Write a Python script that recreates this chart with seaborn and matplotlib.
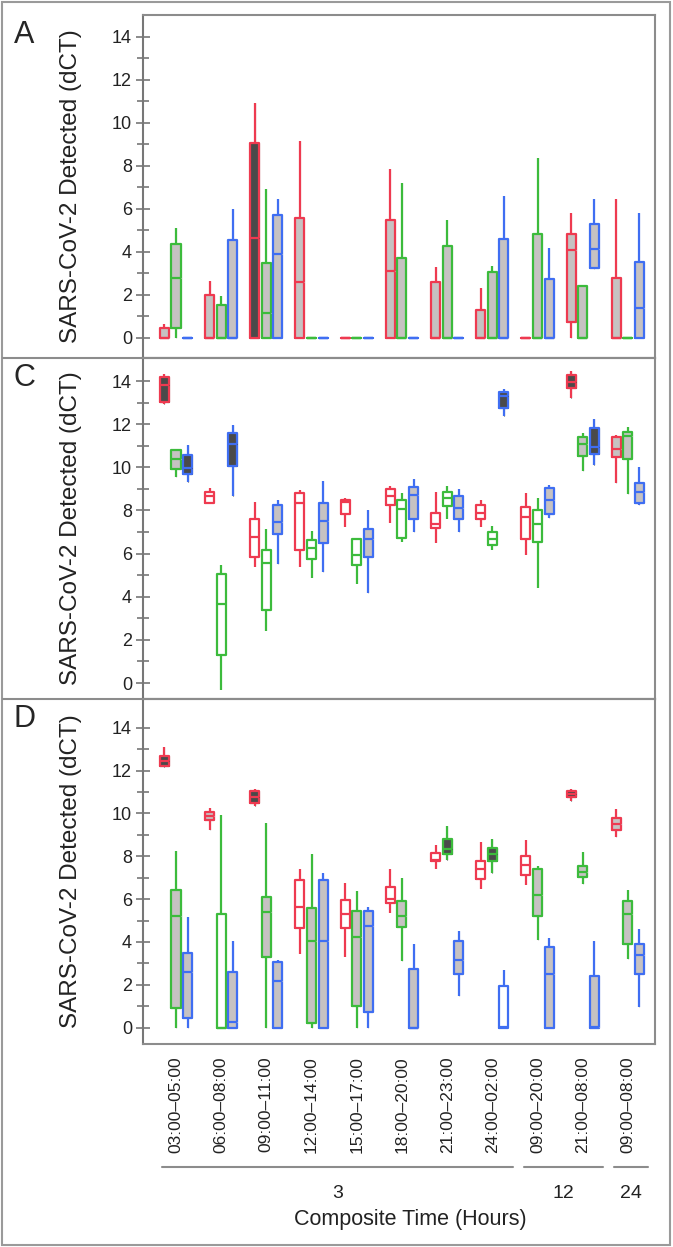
import matplotlib.pyplot as plt
import matplotlib.transforms as mtransforms
import pandas as pd
import seaborn as sns
from matplotlib.lines import Line2D
from matplotlib.patches import Rectangle

sns.set_style('white')
plt.rcParams['font.family'] = ['Liberation Sans', 'DejaVu Sans']

# --- data: box stats per series = (low whisker, q1, median, q3, high whisker) ---
times = ['03:00–05:00', '06:00–08:00', '09:00–11:00', '12:00–14:00', '15:00–17:00',
         '18:00–20:00', '21:00–23:00', '24:00–02:00', '09:00–20:00', '21:00–08:00',
         '09:00–08:00']
hour_groups = ['3', '12', '24']
hour_span = [(0, 7), (8, 9), (10, 10)]
series = ['red', 'green', 'blue']

a_red = [(0, 0, 0, 0.45, 0.65), (0, 0, 0, 1.98, 2.65), (0, 0, 4.63, 9.06, 10.9),
         (0, 0, 2.6, 5.57, 9.16), (0, 0, 0, 0, 0), (0, 0, 3.12, 5.48, 7.87),
         (0, 0, 0, 2.62, 3.28), (0, 0, 0, 1.28, 2.33), (0, 0, 0, 0, 0),
         (0, 0.76, 4.08, 4.84, 5.81), (0, 0, 0, 2.8, 6.45)]
a_green = [(0, 0.48, 2.8, 4.36, 5.1), (0, 0, 0, 1.52, 1.95), (0, 0, 1.15, 3.5, 6.93),
           (0, 0, 0, 0, 0), (0, 0, 0, 0, 0), (0, 0, 0, 3.74, 7.18),
           (0, 0, 0, 4.28, 5.5), (0, 0, 0, 3.08, 3.36), (0, 0, 0, 4.84, 8.37),
           (0, 0, 0, 2.41, 2.41), (0, 0, 0, 0, 0)]
a_blue = [(0, 0, 0, 0, 0), (0, 0, 0, 4.55, 6.0), (0, 0, 3.9, 5.72, 6.45),
          (0, 0, 0, 0, 0), (0, 0, 0, 0, 0), (0, 0, 0, 0, 0),
          (0, 0, 0, 0, 0), (0, 0, 0, 4.61, 6.6), (0, 0, 0, 2.75, 4.16),
          (3.19, 3.27, 4.15, 5.32, 6.45), (0, 0, 1.38, 3.54, 5.83)]
a_red_fill = ['g', 'g', 'd', 'g', 'w', 'g', 'g', 'g', 'w', 'g', 'g']
a_green_fill = ['g', 'g', 'g', 'w', 'w', 'g', 'g', 'g', 'g', 'g', 'w']
a_blue_fill = ['w', 'g', 'g', 'w', 'w', 'w', 'w', 'g', 'g', 'g', 'g']

c_red = [(12.93, 13.05, 13.83, 14.21, 14.34), (8.31, 8.37, 8.65, 8.88, 9.06),
         (5.37, 5.86, 6.76, 7.59, 8.41), (5.37, 6.17, 8.34, 8.80, 8.96),
         (7.25, 7.84, 8.41, 8.49, 8.57), (7.41, 8.24, 8.65, 8.99, 9.14),
         (6.48, 7.21, 7.38, 7.87, 8.88), (7.25, 7.59, 7.90, 8.26, 8.49),
         (5.94, 6.67, 7.72, 8.18, 8.80), (13.21, 13.70, 13.98, 14.29, 14.45),
         (9.27, 10.46, 10.87, 11.43, 11.51)]
c_green = [(9.57, 9.91, 10.39, 10.81, 10.87), (-0.32, 1.30, 3.65, 5.06, 5.48),
           (2.43, 3.39, 5.58, 6.17, 7.13), (4.87, 5.77, 6.25, 6.64, 7.07),
           (4.58, 5.48, 5.94, 6.68, 6.74), (6.56, 6.71, 8.07, 8.49, 8.80),
           (7.59, 8.23, 8.57, 8.88, 9.14), (6.17, 6.40, 6.68, 6.98, 7.30),
           (4.39, 6.56, 7.38, 8.00, 8.57), (9.81, 10.53, 11.09, 11.40, 11.59),
           (8.77, 10.39, 11.46, 11.63, 11.89)]
c_blue = [(9.34, 9.67, 9.96, 10.55, 11.03), (8.69, 10.07, 11.09, 11.59, 11.97),
          (5.52, 6.90, 7.47, 8.24, 8.49), (5.14, 6.51, 7.53, 8.34, 9.37),
          (4.16, 5.86, 6.67, 7.13, 8.03), (7.02, 7.59, 8.72, 9.11, 9.45),
          (7.02, 7.59, 8.11, 8.65, 8.99), (12.36, 12.75, 13.29, 13.49, 13.64),
          (7.67, 7.83, 8.49, 9.06, 9.19), (10.12, 10.63, 10.94, 11.82, 12.24),
          (8.26, 8.34, 8.88, 9.27, 10.01)]
c_red_fill = ['d', 'w', 'w', 'w', 'w', 'w', 'w', 'w', 'w', 'd', 'g']
c_green_fill = ['g', 'w', 'w', 'w', 'w', 'w', 'w', 'w', 'w', 'g', 'g']
c_blue_fill = ['d', 'd', 'g', 'g', 'g', 'g', 'g', 'd', 'g', 'd', 'g']

d_red = [(12.15, 12.21, 12.44, 12.69, 13.08), (9.22, 9.69, 9.88, 10.09, 10.26),
         (10.34, 10.51, 10.78, 11.04, 11.15), (3.44, 4.67, 5.65, 6.89, 7.39),
         (3.28, 4.67, 5.30, 5.96, 6.77), (5.37, 5.80, 6.03, 6.58, 7.40),
         (7.43, 7.79, 7.85, 8.16, 8.52), (6.47, 6.92, 7.39, 7.78, 8.68),
         (6.66, 7.15, 7.59, 8.02, 8.76), (10.58, 10.75, 10.90, 11.06, 11.15),
         (8.88, 9.22, 9.53, 9.77, 10.20)]
d_green = [(0, 0.90, 5.23, 6.42, 8.26), (0, 0, 0, 5.29, 9.95),
           (0, 3.31, 5.41, 6.10, 9.56), (0, 0.2, 4.04, 5.61, 8.13),
           (0, 1.03, 4.25, 5.46, 6.38), (3.13, 4.68, 5.23, 5.93, 7.00),
           (7.82, 8.13, 8.32, 8.80, 9.41), (7.20, 7.79, 8.13, 8.41, 8.83),
           (4.09, 5.23, 6.19, 7.39, 7.56), (6.73, 7.05, 7.28, 7.54, 8.18),
           (3.19, 3.93, 5.30, 5.93, 6.42)]
d_blue = [(0, 0.44, 2.58, 3.47, 5.15), (0, 0, 0.28, 2.58, 4.04),
          (0, 0, 2.19, 3.05, 3.16), (0, 0, 4.04, 6.89, 7.23),
          (0, 0.75, 4.76, 5.46, 5.65), (0, 0, 0, 2.72, 3.89),
          (1.48, 2.50, 3.16, 4.04, 4.53), (0, 0, 0.05, 1.94, 2.69),
          (0, 0, 2.50, 3.78, 4.20), (0, 0, 0.05, 2.41, 4.04),
          (0.98, 2.50, 3.39, 3.93, 4.59)]
d_red_fill = ['d', 'g', 'd', 'w', 'w', 'w', 'w', 'w', 'w', 'd', 'g']
d_green_fill = ['g', 'w', 'g', 'g', 'g', 'g', 'd', 'd', 'g', 'g', 'g']
d_blue_fill = ['g', 'g', 'g', 'g', 'g', 'g', 'g', 'w', 'g', 'g', 'g']

panels = {
    'A': {'red': (a_red, a_red_fill), 'green': (a_green, a_green_fill), 'blue': (a_blue, a_blue_fill)},
    'C': {'red': (c_red, c_red_fill), 'green': (c_green, c_green_fill), 'blue': (c_blue, c_blue_fill)},
    'D': {'red': (d_red, d_red_fill), 'green': (d_green, d_green_fill), 'blue': (d_blue, d_blue_fill)},
}

# long table: 5 points per box give exactly these quartiles with whis=(0, 100)
rows = []
for panel, by_series in panels.items():
    for s, (stats, fill) in by_series.items():
        for i, box in enumerate(stats):
            for v in box:
                rows.append({'panel': panel, 'time': times[i], 'series': s,
                             'fill': fill[i], 'dct': v})
df = pd.DataFrame(rows)

edge = {'red': '#EE3A50', 'green': '#3CBB3C', 'blue': '#3F6EF2'}
fills = {'g': '#C6C2C2', 'd': '#4A4A4A'}
frame = '#8c8c8c'

W, H = 673, 1247
fig = plt.figure(figsize=(W / 100, H / 100), dpi=100)


def fx(px):
    return px / W


def fy(py):
    return 1 - py / H


# panel, top px, bottom px, ylim
layout = [('A', 15, 358, (-0.93, 15.01)),
          ('C', 358, 699, (-0.74, 15.07)),
          ('D', 699, 1044, (-0.76, 15.34))]

box_kw = dict(x='time', y='dct', hue='series', order=times, hue_order=series,
              dodge=True, width=0.77, gap=0.22, whis=(0, 100), showcaps=False,
              legend=False)

axes = []
for letter, top, bot, ylim in layout:
    ax = fig.add_axes([fx(143), fy(bot), fx(655) - fx(143), fy(top) - fy(bot)])
    sub = df[df['panel'] == letter]
    # fill layers first
    for code, col in fills.items():
        part = sub[sub['fill'] == code]
        if len(part):
            sns.boxplot(data=part, palette={s: col for s in series}, linecolor=col,
                        saturation=1, linewidth=0.8, ax=ax, **box_kw)
    # outlines in series colours
    sns.boxplot(data=sub, palette=edge, fill=False, linewidth=1.6, ax=ax, **box_kw)

    ax.set_xlim(-0.73, 10.6)
    ax.set_ylim(*ylim)
    ax.set_xlabel('')
    ax.set_ylabel('')
    ax.set_yticks(range(0, 15, 2))
    ax.set_yticks(range(1, 15, 2), minor=True)
    ax.tick_params(axis='y', which='major', direction='inout', length=10, width=1.2,
                   color='#777777', labelsize=13, labelcolor='#222222', pad=3, left=True)
    ax.tick_params(axis='y', which='minor', direction='inout', length=8, width=1.2,
                   color='#777777', left=True)
    ax.tick_params(axis='x', length=0)
    if letter == 'D':
        ax.set_xticks(range(len(times)))
        ax.set_xticklabels(times, rotation=90, fontsize=12.5, color='#222222')
        ax.tick_params(axis='x', pad=9)
    else:
        ax.tick_params(axis='x', labelbottom=False)
    for sp in ax.spines.values():
        sp.set_color(frame)
        sp.set_linewidth(1.5)
    ax.spines['left'].set_color('#777777')

    fig.text(fx(24), fy(top + 20), letter, fontsize=22, ha='center', va='center')
    fig.text(fx(71), fy((top + bot) / 2), 'SARS-CoV-2 Detected (dCT)', rotation=90,
             ha='center', va='center', fontsize=17.5, color='#222222')
    axes.append(ax)

# separators and outer frame
for py in (358, 699):
    fig.add_artist(Line2D([fx(3), fx(655)], [fy(py), fy(py)], color=frame, lw=1.5))
fig.add_artist(Rectangle((fx(2), fy(1245)), fx(670) - fx(2), fy(2) - fy(1245),
                         transform=fig.transFigure, fill=False, ec='#9a9a9a', lw=1.5))

# grouping brackets under the time labels
axd = axes[-1]
trans = mtransforms.blended_transform_factory(axd.transData, fig.transFigure)
for name, (lo, hi) in zip(hour_groups, hour_span):
    x0 = lo - 0.3
    x1 = min(hi + 0.45, 10.6)
    fig.add_artist(Line2D([x0, x1], [fy(1167), fy(1167)], transform=trans,
                          color=frame, lw=1.5))
    fig.text((x0 + x1) / 2, fy(1193), name, transform=trans, ha='center', va='center',
             fontsize=14, color='#222222')
fig.text(fx(410), fy(1220), 'Composite Time (Hours)', ha='center', va='center',
         fontsize=15.5, color='#222222')

fig.savefig('out.png', dpi=100)
